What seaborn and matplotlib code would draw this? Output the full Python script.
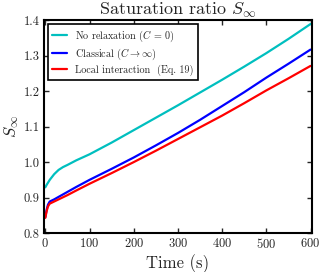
import matplotlib
matplotlib.use('Agg')
import matplotlib.pyplot as plt
import seaborn as sns

# time grid (s) and the three saturation-ratio curves
time_s = [0, 3, 6, 10, 20, 30, 40, 50, 70, 100, 150, 200, 250,
          300, 350, 400, 450, 500, 550, 600]
s_no_relax = [0.929, 0.936, 0.942, 0.950, 0.966, 0.978, 0.986, 0.992, 1.005, 1.022,
              1.055, 1.090, 1.125, 1.160, 1.196, 1.232, 1.269, 1.307, 1.347, 1.389]
s_classical = [0.845, 0.866, 0.880, 0.889, 0.895, 0.902, 0.909, 0.916, 0.930, 0.950,
               0.981, 1.013, 1.047, 1.082, 1.119, 1.158, 1.197, 1.238, 1.277, 1.317]
s_local = [0.843, 0.862, 0.875, 0.883, 0.889, 0.895, 0.901, 0.907, 0.920, 0.939,
           0.969, 1.000, 1.032, 1.065, 1.098, 1.131, 1.166, 1.202, 1.236, 1.271]

series = [
    (s_no_relax, '#00bfbf', r'No relaxation ($C$ = 0)'),
    (s_classical, '#0000ff', r'Classical ($C \rightarrow \infty$)'),
    (s_local, '#ff0000', r'Local interaction  (Eq. 19)'),
]

sns.set_theme(style='ticks')
plt.rcParams['font.family'] = ['cmr10']
plt.rcParams['mathtext.fontset'] = 'cm'
plt.rcParams['axes.formatter.use_mathtext'] = True
plt.rcParams['axes.unicode_minus'] = False

fig = plt.figure(figsize=(3.2, 2.72), dpi=100)
ax = fig.add_axes([0.1375, 0.143, 0.837, 0.783])

for values, color, label in series:
    sns.lineplot(x=time_s, y=values, ax=ax, color=color, label=label, linewidth=1.6)

ax.set_xlim(-3, 603)
ax.set_ylim(0.8, 1.4)
ax.set_xticks([0, 100, 200, 300, 400, 500, 600])
ax.set_yticks([0.8, 0.9, 1.0, 1.1, 1.2, 1.3, 1.4])
ax.set_yticklabels(['0.8', '0.9', '1.0', '1.1', '1.2', '1.3', '1.4'])
ax.tick_params(direction='in', top=True, right=True, length=3.5, width=1.0,
               labelsize=9, pad=3)
for sp in ax.spines.values():
    sp.set_linewidth(1.5)
    sp.set_color('black')

ax.set_title(r'Saturation ratio $S_\infty$', fontsize=13, pad=4)
ax.set_xlabel('Time (s)', fontsize=12, labelpad=2)
ax.set_ylabel(r'$S_\infty$', fontsize=12, labelpad=2)

leg = ax.legend(loc='upper left', fontsize=7.3, frameon=True, fancybox=False,
                edgecolor='black', framealpha=1, handlelength=1.5,
                handletextpad=0.8, borderaxespad=0.4, labelspacing=0.3,
                borderpad=0.4)
leg.get_frame().set_linewidth(1.2)

fig.savefig('out.png', dpi=100)
